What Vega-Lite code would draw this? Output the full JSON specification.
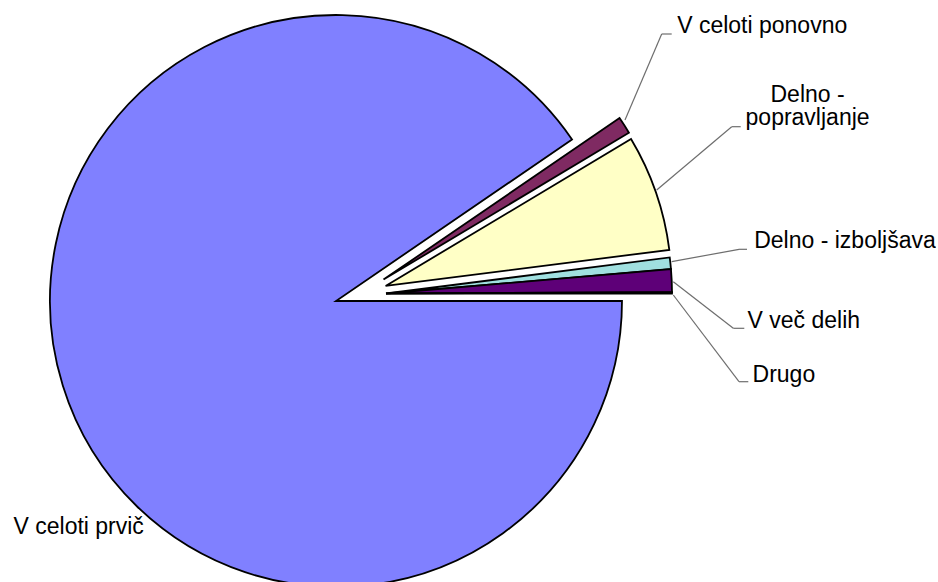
{
  "$schema": "https://vega.github.io/schema/vega-lite/v6.json",
  "width": 672,
  "height": 602,
  "padding": 0,
  "autosize": {"type": "pad"},
  "background": "white",
  "config": {"view": {"stroke": null}},
  "data": {
    "values": [
      {"category": "V celoti prvič", "label": "V celoti prvič", "value": 90.45, "rank": 1},
      {"category": "V celoti ponovno", "label": "V celoti ponovno", "value": 0.97, "rank": 2},
      {"category": "Delno - popravljanje", "label": "Delno -\npopravljanje", "value": 6.57, "rank": 3},
      {"category": "Delno - izboljšava", "label": "Delno - izboljšava", "value": 0.65, "rank": 4},
      {"category": "V več delih", "label": "V več delih", "value": 1.28, "rank": 5},
      {"category": "Drugo", "label": "Drugo", "value": 0.08, "rank": 6}
    ]
  },
  "transform": [
    {"stack": "value", "groupby": [], "sort": [{"field": "rank", "order": "ascending"}], "as": ["v0", "v1"]}
  ],
  "resolve": {"scale": {"theta": "independent", "radius": "independent", "x": "independent", "y": "independent"}},
  "layer": [
    {
      "transform": [{"filter": "datum.rank == 1"}],
      "mark": {"type": "arc", "outerRadius": 286, "stroke": "#000000", "strokeWidth": 1.8},
      "encoding": {
        "color": {"field": "category", "type": "nominal", "legend": null, "scale": {"domain": ["V celoti prvič", "V celoti ponovno", "Delno - popravljanje", "Delno - izboljšava", "V več delih", "Drugo"], "range": ["#8080FF", "#7F2A62", "#FFFFC6", "#A0E0E0", "#5E0078", "#000000"]}},
        "theta": {"field": "v0", "type": "quantitative", "stack": null, "scale": {"domain": [0, 100], "range": [1.5707963, 7.8539816], "zero": false, "nice": false}},
        "theta2": {"field": "v1"}
      }
    },
    {
      "transform": [{"filter": "datum.rank == 2"}],
      "mark": {"type": "arc", "outerRadius": 286, "stroke": "#000000", "strokeWidth": 1.8, "x": {"expr": "width/2 + 47.5"}, "y": {"expr": "height/2 - 21.4"}},
      "encoding": {
        "color": {"field": "category", "type": "nominal", "legend": null, "scale": {"domain": ["V celoti prvič", "V celoti ponovno", "Delno - popravljanje", "Delno - izboljšava", "V več delih", "Drugo"], "range": ["#8080FF", "#7F2A62", "#FFFFC6", "#A0E0E0", "#5E0078", "#000000"]}},
        "theta": {"field": "v0", "type": "quantitative", "stack": null, "scale": {"domain": [0, 100], "range": [1.5707963, 7.8539816], "zero": false, "nice": false}},
        "theta2": {"field": "v1"}
      }
    },
    {
      "transform": [{"filter": "datum.rank == 3"}],
      "mark": {"type": "arc", "outerRadius": 286, "stroke": "#000000", "strokeWidth": 1.8, "x": {"expr": "width/2 + 49.6"}, "y": {"expr": "height/2 - 15.1"}},
      "encoding": {
        "color": {"field": "category", "type": "nominal", "legend": null, "scale": {"domain": ["V celoti prvič", "V celoti ponovno", "Delno - popravljanje", "Delno - izboljšava", "V več delih", "Drugo"], "range": ["#8080FF", "#7F2A62", "#FFFFC6", "#A0E0E0", "#5E0078", "#000000"]}},
        "theta": {"field": "v0", "type": "quantitative", "stack": null, "scale": {"domain": [0, 100], "range": [1.5707963, 7.8539816], "zero": false, "nice": false}},
        "theta2": {"field": "v1"}
      }
    },
    {
      "transform": [{"filter": "datum.rank >= 4"}],
      "mark": {"type": "arc", "outerRadius": 286, "stroke": "#000000", "strokeWidth": 1.8, "x": {"expr": "width/2 + 50"}, "y": {"expr": "height/2 - 7.5"}},
      "encoding": {
        "color": {"field": "category", "type": "nominal", "legend": null, "scale": {"domain": ["V celoti prvič", "V celoti ponovno", "Delno - popravljanje", "Delno - izboljšava", "V več delih", "Drugo"], "range": ["#8080FF", "#7F2A62", "#FFFFC6", "#A0E0E0", "#5E0078", "#000000"]}},
        "theta": {"field": "v0", "type": "quantitative", "stack": null, "scale": {"domain": [0, 100], "range": [1.5707963, 7.8539816], "zero": false, "nice": false}},
        "theta2": {"field": "v1"}
      }
    },
    {
      "transform": [{"filter": "datum.rank >= 2"}],
      "mark": {"type": "rule", "stroke": "#6E6E6E", "strokeWidth": 1.2},
      "encoding": {
        "x": {"field": "value", "type": "quantitative", "axis": null, "scale": {"type": "linear", "domain": [0.08, 0.65, 0.97, 1.28, 6.57, 91.42, 97.99, 98.64, 99.92, 100], "range": [673.3, 671.7, 625, 673.3, 656.7, 661.7, 731.7, 739, 733.3, 739], "zero": false, "nice": false}},
        "x2": {"field": "v1"},
        "y": {"field": "value", "type": "quantitative", "axis": null, "scale": {"type": "linear", "domain": [0.08, 0.65, 0.97, 1.28, 6.57, 91.42, 97.99, 98.64, 99.92, 100], "range": [295, 261.7, 120, 281.7, 190, 34, 126.7, 249.3, 328.3, 381.7], "zero": false, "nice": false}},
        "y2": {"field": "v1"}
      }
    },
    {
      "transform": [{"filter": "datum.rank >= 2"}],
      "mark": {"type": "rule", "stroke": "#6E6E6E", "strokeWidth": 1.2},
      "encoding": {
        "x": {"field": "v1", "type": "quantitative", "axis": null, "scale": {"type": "linear", "domain": [0.08, 0.65, 0.97, 1.28, 6.57, 91.42, 97.99, 98.64, 99.92, 100], "range": [748.3, 747, 671.7, 744.3, 740.7, 661.7, 731.7, 739, 733.3, 739], "zero": false, "nice": false}},
        "x2": {"field": "value"},
        "y": {"field": "v1", "type": "quantitative", "axis": null, "scale": {"type": "linear", "domain": [91.42, 97.99, 98.64, 99.92, 100], "range": [34, 126.7, 249.3, 328.3, 381.7], "zero": false, "nice": false}}
      }
    },
    {
      "mark": {"type": "text", "align": "center", "baseline": "alphabetic", "font": "Liberation Sans", "fontSize": 23, "lineBreak": "\n", "lineHeight": 23.5, "fill": "#000000"},
      "encoding": {
        "text": {"field": "label", "type": "nominal"},
        "theta": {"field": "value", "type": "quantitative", "stack": null, "scale": {"type": "linear", "domain": [0.08, 0.65, 0.97, 1.28, 6.57, 90.45], "range": [1.7504, 1.4677, 1.0100, 1.6290, 1.1707, 3.9760], "zero": false, "nice": false}},
        "radius": {"field": "value", "type": "quantitative", "scale": {"type": "linear", "domain": [0.08, 0.65, 0.97, 1.28, 6.57, 90.45], "range": [455.2, 511.7, 503.3, 468.6, 512.0, 347.3], "zero": false, "nice": false}}
      }
    }
  ]
}
